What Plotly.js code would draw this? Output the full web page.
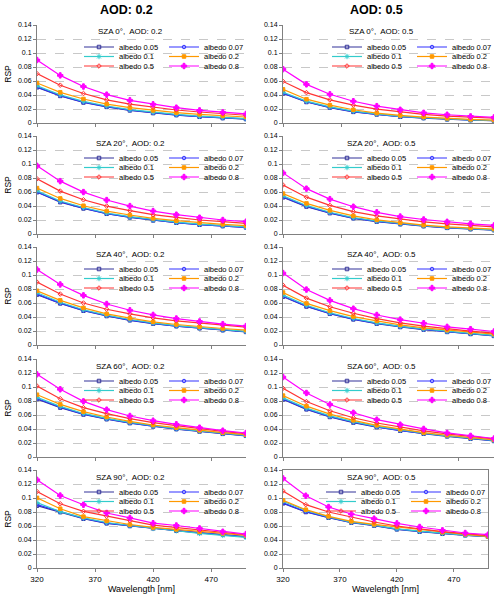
<!DOCTYPE html>
<html><head><meta charset="utf-8">
<script src="https://cdn.plot.ly/plotly-3.0.1.min.js"></script>
<style>html,body{margin:0;padding:0;background:#fff}</style>
</head><body><div id="chart" style="width:500px;height:601px"></div>
<script>
const wavelength = [320, 340, 360, 380, 400, 420, 440, 460, 480, 500];
const albedoLabels = ['albedo 0.05', 'albedo 0.07', 'albedo 0.1', 'albedo 0.2', 'albedo 0.5', 'albedo 0.8'];
const szaLabels = ['0', '20', '40', '60', '90'];
const aodLabels = ['0.2', '0.5'];
const xTicks = [320, 370, 420, 470];

// rows: albedo 0.05, 0.07, 0.1, 0.2, 0.5, 0.8
const sza0_aod02 = [
  [0.0510, 0.0387, 0.0293, 0.0230, 0.0180, 0.0142, 0.0113, 0.0089, 0.0070, 0.0056],
  [0.0517, 0.0392, 0.0297, 0.0234, 0.0183, 0.0145, 0.0115, 0.0091, 0.0072, 0.0058],
  [0.0532, 0.0404, 0.0308, 0.0243, 0.0191, 0.0152, 0.0122, 0.0097, 0.0078, 0.0063],
  [0.0572, 0.0438, 0.0343, 0.0270, 0.0219, 0.0180, 0.0148, 0.0124, 0.0101, 0.0086],
  [0.0705, 0.0540, 0.0421, 0.0330, 0.0270, 0.0224, 0.0186, 0.0157, 0.0133, 0.0111],
  [0.0900, 0.0680, 0.0521, 0.0405, 0.0324, 0.0267, 0.0219, 0.0180, 0.0152, 0.0129]
];
const sza0_aod05 = [
  [0.0422, 0.0300, 0.0220, 0.0159, 0.0122, 0.0089, 0.0070, 0.0052, 0.0041, 0.0032],
  [0.0428, 0.0304, 0.0223, 0.0162, 0.0124, 0.0091, 0.0072, 0.0054, 0.0043, 0.0034],
  [0.0440, 0.0313, 0.0231, 0.0169, 0.0129, 0.0096, 0.0076, 0.0057, 0.0045, 0.0036],
  [0.0481, 0.0340, 0.0255, 0.0189, 0.0142, 0.0108, 0.0085, 0.0066, 0.0052, 0.0042],
  [0.0594, 0.0434, 0.0330, 0.0255, 0.0198, 0.0156, 0.0123, 0.0099, 0.0080, 0.0071],
  [0.0769, 0.0552, 0.0410, 0.0311, 0.0241, 0.0189, 0.0146, 0.0118, 0.0094, 0.0080]
];
const sza20_aod02 = [
  [0.0597, 0.0455, 0.0365, 0.0289, 0.0237, 0.0194, 0.0161, 0.0132, 0.0113, 0.0094],
  [0.0603, 0.0460, 0.0369, 0.0292, 0.0240, 0.0197, 0.0163, 0.0134, 0.0115, 0.0096],
  [0.0618, 0.0472, 0.0378, 0.0300, 0.0247, 0.0203, 0.0169, 0.0140, 0.0120, 0.0101],
  [0.0656, 0.0508, 0.0404, 0.0328, 0.0271, 0.0223, 0.0190, 0.0162, 0.0138, 0.0119],
  [0.0789, 0.0613, 0.0489, 0.0399, 0.0333, 0.0276, 0.0238, 0.0200, 0.0176, 0.0152],
  [0.0974, 0.0755, 0.0599, 0.0485, 0.0399, 0.0328, 0.0276, 0.0233, 0.0200, 0.0176]
];
const sza20_aod05 = [
  [0.0524, 0.0392, 0.0298, 0.0224, 0.0177, 0.0140, 0.0112, 0.0088, 0.0069, 0.0055],
  [0.0530, 0.0397, 0.0302, 0.0227, 0.0180, 0.0142, 0.0114, 0.0090, 0.0071, 0.0057],
  [0.0545, 0.0408, 0.0311, 0.0234, 0.0186, 0.0147, 0.0118, 0.0094, 0.0075, 0.0060],
  [0.0577, 0.0437, 0.0338, 0.0258, 0.0202, 0.0160, 0.0127, 0.0103, 0.0085, 0.0070],
  [0.0700, 0.0526, 0.0408, 0.0319, 0.0258, 0.0211, 0.0174, 0.0146, 0.0122, 0.0103],
  [0.0873, 0.0648, 0.0498, 0.0390, 0.0310, 0.0249, 0.0207, 0.0174, 0.0146, 0.0122]
];
const sza40_aod02 = [
  [0.0720, 0.0594, 0.0490, 0.0414, 0.0353, 0.0305, 0.0268, 0.0239, 0.0211, 0.0187],
  [0.0728, 0.0599, 0.0494, 0.0418, 0.0356, 0.0308, 0.0271, 0.0241, 0.0213, 0.0189],
  [0.0747, 0.0610, 0.0504, 0.0426, 0.0364, 0.0315, 0.0277, 0.0247, 0.0219, 0.0195],
  [0.0775, 0.0638, 0.0530, 0.0444, 0.0383, 0.0331, 0.0293, 0.0260, 0.0236, 0.0213],
  [0.0898, 0.0728, 0.0600, 0.0511, 0.0444, 0.0388, 0.0345, 0.0312, 0.0284, 0.0255],
  [0.1078, 0.0865, 0.0709, 0.0586, 0.0496, 0.0430, 0.0378, 0.0336, 0.0298, 0.0270]
];
const sza40_aod05 = [
  [0.0690, 0.0550, 0.0446, 0.0366, 0.0305, 0.0257, 0.0220, 0.0187, 0.0158, 0.0130],
  [0.0697, 0.0555, 0.0450, 0.0370, 0.0308, 0.0260, 0.0222, 0.0189, 0.0160, 0.0132],
  [0.0712, 0.0567, 0.0461, 0.0379, 0.0316, 0.0267, 0.0229, 0.0195, 0.0166, 0.0138],
  [0.0750, 0.0594, 0.0491, 0.0406, 0.0344, 0.0288, 0.0245, 0.0212, 0.0184, 0.0156],
  [0.0854, 0.0670, 0.0547, 0.0453, 0.0377, 0.0316, 0.0269, 0.0231, 0.0198, 0.0170],
  [0.1028, 0.0792, 0.0637, 0.0519, 0.0429, 0.0363, 0.0311, 0.0259, 0.0226, 0.0193]
];
const sza60_aod02 = [
  [0.0828, 0.0706, 0.0607, 0.0540, 0.0484, 0.0436, 0.0398, 0.0365, 0.0331, 0.0303],
  [0.0836, 0.0712, 0.0612, 0.0544, 0.0488, 0.0439, 0.0401, 0.0368, 0.0334, 0.0306],
  [0.0852, 0.0724, 0.0622, 0.0551, 0.0494, 0.0445, 0.0406, 0.0372, 0.0338, 0.0310],
  [0.0890, 0.0752, 0.0648, 0.0571, 0.0510, 0.0457, 0.0419, 0.0381, 0.0348, 0.0319],
  [0.1014, 0.0833, 0.0705, 0.0619, 0.0548, 0.0490, 0.0448, 0.0405, 0.0367, 0.0333],
  [0.1181, 0.0967, 0.0795, 0.0676, 0.0586, 0.0519, 0.0467, 0.0419, 0.0376, 0.0343]
];
const sza60_aod05 = [
  [0.0822, 0.0681, 0.0572, 0.0492, 0.0427, 0.0375, 0.0333, 0.0295, 0.0262, 0.0229],
  [0.0829, 0.0687, 0.0577, 0.0497, 0.0431, 0.0378, 0.0336, 0.0298, 0.0265, 0.0232],
  [0.0844, 0.0699, 0.0587, 0.0505, 0.0438, 0.0385, 0.0342, 0.0303, 0.0270, 0.0237],
  [0.0877, 0.0726, 0.0613, 0.0524, 0.0453, 0.0396, 0.0349, 0.0311, 0.0278, 0.0245],
  [0.0981, 0.0792, 0.0660, 0.0561, 0.0486, 0.0425, 0.0373, 0.0330, 0.0292, 0.0259],
  [0.1142, 0.0915, 0.0750, 0.0632, 0.0533, 0.0462, 0.0401, 0.0344, 0.0302, 0.0264]
];
const sza90_aod02 = [
  [0.0890, 0.0798, 0.0704, 0.0638, 0.0600, 0.0567, 0.0534, 0.0502, 0.0478, 0.0445],
  [0.0905, 0.0803, 0.0708, 0.0642, 0.0603, 0.0570, 0.0537, 0.0505, 0.0481, 0.0448],
  [0.0936, 0.0805, 0.0715, 0.0650, 0.0607, 0.0565, 0.0532, 0.0494, 0.0466, 0.0438],
  [0.1002, 0.0847, 0.0734, 0.0673, 0.0621, 0.0579, 0.0551, 0.0518, 0.0494, 0.0466],
  [0.1092, 0.0918, 0.0809, 0.0739, 0.0678, 0.0612, 0.0579, 0.0541, 0.0508, 0.0475],
  [0.1260, 0.1035, 0.0904, 0.0786, 0.0715, 0.0640, 0.0607, 0.0565, 0.0518, 0.0485]
];
const sza90_aod05 = [
  [0.0924, 0.0800, 0.0719, 0.0648, 0.0605, 0.0552, 0.0519, 0.0490, 0.0467, 0.0448],
  [0.0930, 0.0805, 0.0723, 0.0652, 0.0608, 0.0556, 0.0522, 0.0493, 0.0469, 0.0450],
  [0.0952, 0.0824, 0.0728, 0.0656, 0.0612, 0.0560, 0.0526, 0.0494, 0.0470, 0.0451],
  [0.0967, 0.0833, 0.0738, 0.0667, 0.0624, 0.0586, 0.0548, 0.0510, 0.0481, 0.0452],
  [0.1100, 0.0905, 0.0800, 0.0724, 0.0657, 0.0600, 0.0557, 0.0519, 0.0490, 0.0462],
  [0.1280, 0.1033, 0.0871, 0.0771, 0.0705, 0.0638, 0.0586, 0.0538, 0.0500, 0.0476]
];

const panelData = [
  [sza0_aod02, sza0_aod05],
  [sza20_aod02, sza20_aod05],
  [sza40_aod02, sza40_aod05],
  [sza60_aod02, sza60_aod05],
  [sza90_aod02, sza90_aod05]
];

const seriesColors = ['#333399', '#3333FF', '#33CCCC', '#FF9900', '#FF3333', '#FF00FF'];
const seriesSymbols = ['square-open', 'circle-open', 'asterisk-open', 'square', 'diamond-open', 'cross'];
const seriesSizes = [3.5, 3.5, 4.5, 3.5, 3.5, 4.5];

const FONT = 'Liberation Sans, Arial, sans-serif';
const W = 500, H = 601;
const rowTop = [25, 136, 247, 359, 470];
const rowBot = [123, 234, 345, 457, 568];
const colLeft = [37, 283];
const colRight = [246, 494];
const legendRowOffsets = [22, 31.5, 41];
const subtitleX = [130, 381];
const colTitleX = [126, 376];

const traces = [];
const layout = {
  width: W, height: H,
  margin: {l: 0, r: 0, t: 0, b: 0},
  paper_bgcolor: '#ffffff',
  plot_bgcolor: '#ffffff',
  font: {family: FONT, size: 8, color: '#000000'},
  annotations: [],
  showlegend: true
};

for (let r = 0; r < 5; r++) {
  for (let c = 0; c < 2; c++) {
    const p = r * 2 + c;
    const n = p + 1;
    const xs = n === 1 ? 'x' : 'x' + n;
    const ys = n === 1 ? 'y' : 'y' + n;
    const lastPanel = (r === 4 && c === 1);
    const right = lastPanel ? 488 : colRight[c];
    const top = rowTop[r];
    const bot = rowBot[r];
    const data = panelData[r][c];

    for (let s = 0; s < 6; s++) {
      const legIdx = p * 3 + Math.floor(s / 2) + 1;
      traces.push({
        type: 'scatter', mode: 'lines+markers',
        x: wavelength, y: data[s],
        name: albedoLabels[s],
        xaxis: xs, yaxis: ys,
        legend: legIdx === 1 ? 'legend' : 'legend' + legIdx,
        line: {color: seriesColors[s], width: 1.2},
        marker: {symbol: seriesSymbols[s], size: seriesSizes[s], color: seriesColors[s],
                 line: {color: seriesColors[s], width: 1}},
        hoverinfo: 'x+y+name'
      });
    }

    layout['xaxis' + (n === 1 ? '' : n)] = {
      domain: [colLeft[c] / W, right / W],
      anchor: ys,
      range: [320, 500],
      tickvals: xTicks,
      ticktext: xTicks.map(String),
      showticklabels: r === 4,
      ticks: 'outside', ticklen: 3, tickcolor: '#808080', tickwidth: 1,
      showline: true, linecolor: '#808080', linewidth: 1,
      mirror: lastPanel ? true : false,
      showgrid: false, zeroline: false,
      tickfont: {family: FONT, size: 8, color: '#000'},
      title: r === 4 ? {text: 'Wavelength [nm]', font: {family: FONT, size: 9, color: '#000'}, standoff: 3} : {text: ''}
    };
    layout['yaxis' + (n === 1 ? '' : n)] = {
      domain: [1 - bot / H, 1 - top / H],
      anchor: xs,
      range: [0, 0.14],
      dtick: 0.02, tick0: 0,
      ticks: 'outside', ticklen: 3, tickcolor: '#808080', tickwidth: 1,
      showline: true, linecolor: '#808080', linewidth: 1,
      mirror: lastPanel ? true : false,
      showgrid: true, gridcolor: '#c8c8c8', griddash: 'dash', gridwidth: 1,
      zeroline: false,
      tickfont: {family: FONT, size: 7, color: '#000'},
      title: c === 0 ? {text: 'RSP', font: {family: FONT, size: 8.5, color: '#000'}, standoff: 4} : {text: ''}
    };

    layout.annotations.push({
      text: 'SZA ' + szaLabels[r] + '°,\u00a0 AOD: ' + aodLabels[c],
      xref: 'paper', yref: 'paper',
      x: subtitleX[c] / W, y: 1 - (top + 7) / H,
      xanchor: 'center', yanchor: 'middle', showarrow: false,
      font: {family: FONT, size: 8, color: '#000'}
    });

    // three one-row legends per panel give the 2-column, 3-row key
    for (let k = 0; k < 3; k++) {
      const legIdx = p * 3 + k + 1;
      layout[legIdx === 1 ? 'legend' : 'legend' + legIdx] = {
        orientation: 'h',
        x: (right - 167) / W, xanchor: 'left',
        y: 1 - (top + legendRowOffsets[k]) / H, yanchor: 'middle',
        bgcolor: 'rgba(0,0,0,0)', borderwidth: 0,
        entrywidth: 40, entrywidthmode: 'pixels',
        itemwidth: 30,
        font: {family: FONT, size: 7.5, color: '#000'}
      };
    }
  }
}

for (let c = 0; c < 2; c++) {
  layout.annotations.push({
    text: '<b>AOD: ' + aodLabels[c] + '</b>',
    xref: 'paper', yref: 'paper',
    x: colTitleX[c] / W, y: 1 - 10 / H,
    xanchor: 'center', yanchor: 'middle', showarrow: false,
    font: {family: FONT, size: 12.5, color: '#000'}
  });
}

Plotly.newPlot('chart', traces, layout, {displayModeBar: false, staticPlot: true});
</script>
</body></html>
